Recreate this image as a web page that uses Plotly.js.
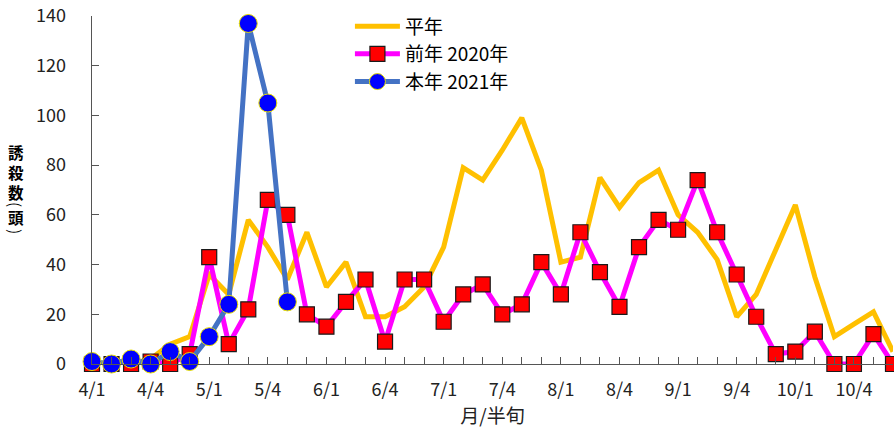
<!DOCTYPE html>
<html>
<head>
<meta charset="utf-8">
<script src="https://cdn.plot.ly/plotly-3.0.1.min.js"></script>
<style>html,body{margin:0;padding:0;background:#fff;}#chart{width:894px;height:428px;}</style>
</head>
<body>
<div id="chart"></div>
<script>
// Half-month-period categories (month/half-jun) 4/1 .. 10/6
const categories = [
  "4/1","4/2","4/3","4/4","4/5","4/6",
  "5/1","5/2","5/3","5/4","5/5","5/6",
  "6/1","6/2","6/3","6/4","6/5","6/6",
  "7/1","7/2","7/3","7/4","7/5","7/6",
  "8/1","8/2","8/3","8/4","8/5","8/6",
  "9/1","9/2","9/3","9/4","9/5","9/6",
  "10/1","10/2","10/3","10/4","10/5","10/6"
];
const tickLabels = ["4/1","4/4","5/1","5/4","6/1","6/4","7/1","7/4","8/1","8/4","9/1","9/4","10/1","10/4"];

const seriesNames = ["平年", "前年 2020年", "本年 2021年"];

// 平年 (normal year)
const normalYear = [0,0,0,2,8,11, 36,28,58,47,34,53, 31,41,19,19,23,31, 47,79,74,86,99,78, 41,43,75,63,73,78, 60,53,42,19,28,46, 64,35,11,16,21,5];
// 前年 2020年
const prevYear = [0,0,0,1,0,4, 43,8,22,66,60,20, 15,25,34,9,34,34, 17,28,32,20,24,41, 28,53,37,23,47,58, 54,74,53,36,19,4, 5,13,0,0,12,0];
// 本年 2021年
const thisYear = [1,0,2,0,5,1, 11,24,137,105,25];

// y-axis title pieces (vertical, upright)
const ytitleMain = "誘<br>殺<br>数";
const ytitleUnit = "頭";

const font = '"Noto Sans CJK JP", "Noto Sans", sans-serif';

const traces = [
  {
    x: categories, y: normalYear, name: seriesNames[0], type: 'scatter', mode: 'lines',
    line: {color: '#FFC000', width: 5}, cliponaxis: false
  },
  {
    x: categories, y: prevYear, name: seriesNames[1], type: 'scatter', mode: 'lines+markers',
    line: {color: '#FF00FF', width: 5},
    marker: {symbol: 'square', size: 15, color: '#FF0000', line: {color: '#1a1a1a', width: 1.2}},
    cliponaxis: false
  },
  {
    x: categories.slice(0, thisYear.length), y: thisYear, name: seriesNames[2], type: 'scatter', mode: 'lines+markers',
    line: {color: '#4472C4', width: 5},
    marker: {symbol: 'circle', size: 18, color: '#0000FF', line: {color: '#E8E000', width: 1}},
    cliponaxis: false
  }
];

// paper y from pixel: (364 - py) / 348 ; paper x from pixel: (px - 92) / 801
const tx = (16 - 92) / 801;
const py = p => (364 - p) / 348;
const ytFont = {family: font, size: 15.5, color: '#000', weight: 'bold'};
const annotations = [
  {text: ytitleMain, xref: 'paper', yref: 'paper', x: tx, y: py(171.5), xanchor: 'center', yanchor: 'middle',
   showarrow: false, font: ytFont, borderpad: 0},
  {text: '(', textangle: 90, xref: 'paper', yref: 'paper', x: tx, y: py(204), xanchor: 'center', yanchor: 'middle',
   showarrow: false, font: {family: font, size: 15.5, color: '#000'}, borderpad: 0},
  {text: ytitleUnit, xref: 'paper', yref: 'paper', x: tx, y: py(217), xanchor: 'center', yanchor: 'middle',
   showarrow: false, font: ytFont, borderpad: 0},
  {text: ')', textangle: 90, xref: 'paper', yref: 'paper', x: tx, y: py(231), xanchor: 'center', yanchor: 'middle',
   showarrow: false, font: {family: font, size: 15.5, color: '#000'}, borderpad: 0}
];

const layout = {
  width: 894, height: 428,
  margin: {l: 92, r: 1, t: 16, b: 64},
  paper_bgcolor: '#fff', plot_bgcolor: '#fff',
  font: {family: font, color: '#000'},
  showlegend: true,
  legend: {
    x: 0.322, y: 1.025, xanchor: 'left', yanchor: 'top',
    bgcolor: 'rgba(0,0,0,0)', font: {family: font, size: 19, color: '#000'},
    itemwidth: 45, traceorder: 'normal'
  },
  xaxis: {
    type: 'category', range: [0, 41], fixedrange: true,
    tickmode: 'array', tickvals: categories,
    ticktext: categories.map(c => tickLabels.includes(c) ? c : ''),
    ticks: 'inside', ticklen: 7, tickcolor: '#555', tickwidth: 1,
    showline: true, linecolor: '#555', linewidth: 1.3,
    showgrid: false, zeroline: false,
    tickfont: {family: font, size: 18, color: '#222'},
    ticklabelstandoff: 9,
    title: {text: '月/半旬', font: {family: font, size: 19, color: '#222'}, standoff: 20}
  },
  yaxis: {
    range: [0, 140], dtick: 20, tick0: 0, fixedrange: true,
    ticks: 'inside', ticklen: 7, tickcolor: '#555', tickwidth: 1,
    showline: true, linecolor: '#555', linewidth: 1.3,
    showgrid: false, zeroline: false,
    tickfont: {family: font, size: 18, color: '#222'},
    ticklabelstandoff: 21
  },
  annotations: annotations
};

Plotly.newPlot('chart', traces, layout, {displayModeBar: false, staticPlot: true});
</script>
</body>
</html>
